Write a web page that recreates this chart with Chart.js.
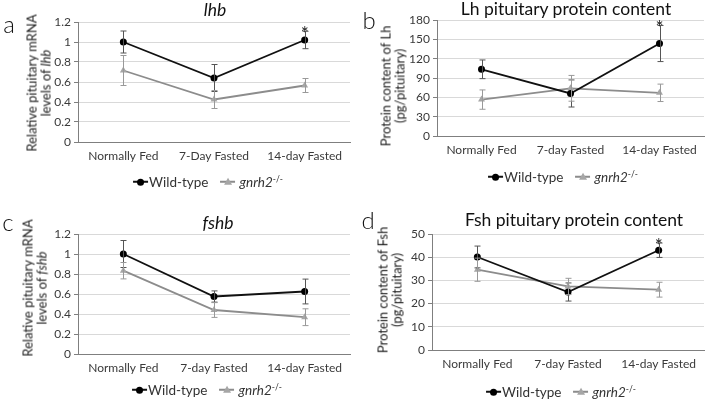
<!DOCTYPE html>
<html><head><meta charset="utf-8">
<script src="https://cdn.jsdelivr.net/npm/chart.js@4"></script>
<style>
html,body{margin:0;padding:0;background:#fff;}
#wrap{position:relative;width:708px;height:399px;overflow:hidden;font-family:Lato,"Open Sans",sans-serif;color:#222;}
.panel{position:absolute;}
.panel canvas{position:absolute;left:0;top:0;}
.abs{position:absolute;white-space:nowrap;transform:translate(-50%,-50%);}
.ytitle{position:absolute;white-space:nowrap;text-align:center;font-size:13px;line-height:13.5px;color:#222;transform:translate(-50%,-50%) rotate(-90deg);}
.title{font-size:17.5px;color:#111;}
.letter{font-size:24px;font-weight:300;color:#111;}
.leg{font-size:13.5px;color:#333;display:flex;align-items:center;}
.sw{position:relative;display:inline-block;width:15px;height:10px;margin-right:1px;}
.sw .ln{position:absolute;left:0;right:0;top:4px;height:1.6px;}
.sw .dot{position:absolute;left:4px;top:1.5px;width:7px;height:7px;border-radius:50%;background:#000;}
.sw .tri{position:absolute;left:3.5px;top:1px;width:0;height:0;border-left:4px solid transparent;border-right:4px solid transparent;border-bottom:7px solid #a6a6a6;}
</style></head>
<body>
<div id="wrap"></div>
<script>
// ---------- data ----------
const catsA = ['Normally Fed', '7-Day Fasted', '14-day Fasted'];
const catsB = ['Normally Fed', '7-day Fasted', '14-day Fasted'];

const lhbWT     = [1.00, 0.64, 1.02];
const lhbWTErr  = [0.11, 0.135, 0.087];
const lhbKO     = [0.715, 0.425, 0.565];
const lhbKOErr  = [0.15, 0.09, 0.07];
const lhbSig    = [false, false, true];

const lhProtWT    = [103.5, 66, 143.5];
const lhProtWTErr = [14.5, 21, 28];
const lhProtKO    = [56.5, 74, 67];
const lhProtKOErr = [15, 20, 13.5];
const lhProtSig   = [false, false, true];

const fshbWT    = [1.00, 0.575, 0.625];
const fshbWTErr = [0.135, 0.056, 0.124];
const fshbKO    = [0.833, 0.44, 0.368];
const fshbKOErr = [0.082, 0.074, 0.084];
const fshbSig   = [false, false, false];

const fshProtWT    = [40.1, 25.0, 43.0];
const fshProtWTErr = [4.7, 3.9, 3.1];
const fshProtKO    = [34.6, 27.4, 26.0];
const fshProtKOErr = [5.0, 3.5, 3.2];
const fshProtSig   = [false, false, true];

const ticksMRNA   = [0, 0.2, 0.4, 0.6, 0.8, 1, 1.2];
const ticksLhProt = [0, 30, 60, 90, 120, 150, 180];
const ticksFshProt= [0, 10, 20, 30, 40, 50];

// ---------- plugins ----------
const errorBars = {
  id: 'errorBars',
  afterDatasetsDraw(chart) {
    const ctx = chart.ctx, ys = chart.scales.y;
    chart.data.datasets.forEach((ds, i) => {
      const meta = chart.getDatasetMeta(i);
      ctx.save();
      ctx.strokeStyle = ds.errColor;
      ctx.lineWidth = 1;
      meta.data.forEach((pt, j) => {
        const v = ds.data[j], e = ds.err[j];
        const x = Math.round(pt.x) + 0.5;
        const yt = ys.getPixelForValue(v + e), yb = ys.getPixelForValue(v - e);
        ctx.beginPath();
        ctx.moveTo(x, yt); ctx.lineTo(x, yb);
        ctx.moveTo(x - 3, yt); ctx.lineTo(x + 3, yt);
        ctx.moveTo(x - 3, yb); ctx.lineTo(x + 3, yb);
        ctx.stroke();
      });
      ctx.restore();
    });
    // significance stars
    const ds0 = chart.data.datasets[0];
    const meta0 = chart.getDatasetMeta(0);
    ctx.save();
    ctx.fillStyle = '#222';
    ctx.font = '19px Lato, sans-serif';
    ctx.textAlign = 'center';
    ctx.textBaseline = 'alphabetic';
    (ds0.sig || []).forEach((s, j) => {
      if (!s) return;
      const x = meta0.data[j].x;
      const yt = ys.getPixelForValue(ds0.data[j] + ds0.err[j]);
      ctx.fillText('*', x, yt + 9);
    });
    ctx.restore();
  }
};

// ---------- builder ----------
const wrap = document.getElementById('wrap');

function el(tag, cls, html, style) {
  const d = document.createElement(tag);
  if (cls) d.className = cls;
  if (html !== undefined) d.innerHTML = html;
  if (style) Object.assign(d.style, style);
  return d;
}

function makePanel(p) {
  const panel = el('div', 'panel', undefined, {left: p.left + 'px', top: p.top + 'px', width: p.w + 'px', height: p.h + 'px'});
  wrap.appendChild(panel);
  const cv = document.createElement('canvas');
  cv.width = p.w; cv.height = p.h;
  cv.style.width = p.w + 'px'; cv.style.height = p.h + 'px';
  panel.appendChild(cv);

  new Chart(cv.getContext('2d'), {
    type: 'line',
    data: {
      labels: p.cats,
      datasets: [
        {label: 'Wild-type', data: p.wt, err: p.wtErr, sig: p.sig, errColor: '#555',
         borderColor: '#111', backgroundColor: '#000', borderWidth: 1.8,
         pointStyle: 'circle', pointRadius: 3.5, pointBorderWidth: 0, pointBackgroundColor: '#000', tension: 0},
        {label: 'gnrh2-/-', data: p.ko, err: p.koErr, errColor: '#999',
         borderColor: '#8c8c8c', backgroundColor: '#a6a6a6', borderWidth: 1.8,
         pointStyle: 'triangle', pointRadius: 4, pointBorderWidth: 0, pointBackgroundColor: '#a6a6a6', tension: 0}
      ]
    },
    options: {
      responsive: false, animation: false, devicePixelRatio: 1,
      layout: {padding: {left: 0, top: p.ca.top, right: p.w - p.ca.right, bottom: 0}},
      plugins: {legend: {display: false}, tooltip: {enabled: false}, title: {display: false}},
      scales: {
        x: {
          type: 'category', offset: true,
          grid: {display: false, drawTicks: false},
          border: {display: true, color: '#7f7f7f', width: 1},
          ticks: {color: '#3a3a3a', font: {family: 'Lato', size: 12}, padding: 7, maxRotation: 0, autoSkip: false},
          afterFit(s) { s.height = p.h - p.ca.bottom; }
        },
        y: {
          min: p.yTicks[0], max: p.yTicks[p.yTicks.length - 1],
          afterBuildTicks(s) { s.ticks = p.yTicks.map(v => ({value: v})); },
          grid: {color: '#d9d9d9', lineWidth: 1, drawTicks: true, tickLength: 4, tickColor: '#7f7f7f'},
          border: {display: true, color: '#7f7f7f', width: 1},
          ticks: {color: '#3a3a3a', font: {family: 'Lato', size: 12}, padding: 3,
                  callback: v => String(Math.round(v * 10) / 10)},
          afterFit(s) { s.width = p.ca.left; }
        }
      }
    },
    plugins: [errorBars]
  });

  // overlays
  panel.appendChild(el('div', 'abs letter', p.letter, {left: p.letterPos[0] + 'px', top: p.letterPos[1] + 'px'}));
  panel.appendChild(el('div', 'abs title', p.title, {left: p.titlePos[0] + 'px', top: p.titlePos[1] + 'px'}));
  panel.appendChild(el('div', 'ytitle', p.ytitle, {left: p.ytitlePos[0] + 'px', top: p.ytitlePos[1] + 'px'}));
  const leg = el('div', 'abs leg', undefined, {left: p.legPos[0] + 'px', top: p.legPos[1] + 'px'});
  leg.innerHTML =
    '<span class="sw"><span class="ln" style="background:#111"></span><span class="dot"></span></span><span>Wild-type</span>' +
    '<span style="display:inline-block;width:12px"></span>' +
    '<span class="sw"><span class="ln" style="background:#8c8c8c"></span><span class="tri"></span></span><span style="margin-left:3px"><i>gnrh2</i><sup style="font-size:8.5px">-/-</sup></span>';
  panel.appendChild(leg);
}

makePanel({
  left: 0, top: 0, w: 354, h: 199, cats: catsA,
  wt: lhbWT, wtErr: lhbWTErr, ko: lhbKO, koErr: lhbKOErr, sig: lhbSig, yTicks: ticksMRNA,
  ca: {left: 78, top: 22, right: 352, bottom: 142},
  letter: 'a', letterPos: [9, 23], title: '<i>lhb</i>', titlePos: [215, 9],
  ytitle: 'Relative pituitary mRNA<br>levels of <i>lhb</i>', ytitlePos: [38.5, 83],
  legPos: [208, 182]
});
makePanel({
  left: 354, top: 0, w: 354, h: 199, cats: catsB,
  wt: lhProtWT, wtErr: lhProtWTErr, ko: lhProtKO, koErr: lhProtKOErr, sig: lhProtSig, yTicks: ticksLhProt,
  ca: {left: 83, top: 20, right: 352, bottom: 136},
  letter: 'b', letterPos: [15, 19], title: 'Lh pituitary protein content', titlePos: [212, 8],
  ytitle: 'Protein content of Lh<br>(pg/pituitary)', ytitlePos: [38.5, 86],
  legPos: [209, 177]
});
makePanel({
  left: 0, top: 199, w: 354, h: 200, cats: catsB,
  wt: fshbWT, wtErr: fshbWTErr, ko: fshbKO, koErr: fshbKOErr, sig: fshbSig, yTicks: ticksMRNA,
  ca: {left: 78, top: 35, right: 352, bottom: 155},
  letter: 'c', letterPos: [8, 22], title: '<i>fshb</i>', titlePos: [218, 23],
  ytitle: 'Relative pituitary mRNA<br>levels of <i>fshb</i>', ytitlePos: [35, 89],
  legPos: [207, 191]
});
makePanel({
  left: 354, top: 199, w: 354, h: 200, cats: catsB,
  wt: fshProtWT, wtErr: fshProtWTErr, ko: fshProtKO, koErr: fshProtKOErr, sig: fshProtSig, yTicks: ticksFshProt,
  ca: {left: 78, top: 35, right: 353, bottom: 151},
  letter: 'd', letterPos: [14, 20], title: 'Fsh pituitary protein content', titlePos: [220, 20],
  ytitle: 'Protein content of Fsh<br>(pg/pituitary)', ytitlePos: [35.5, 91],
  legPos: [207, 193]
});
</script>
</body></html>
